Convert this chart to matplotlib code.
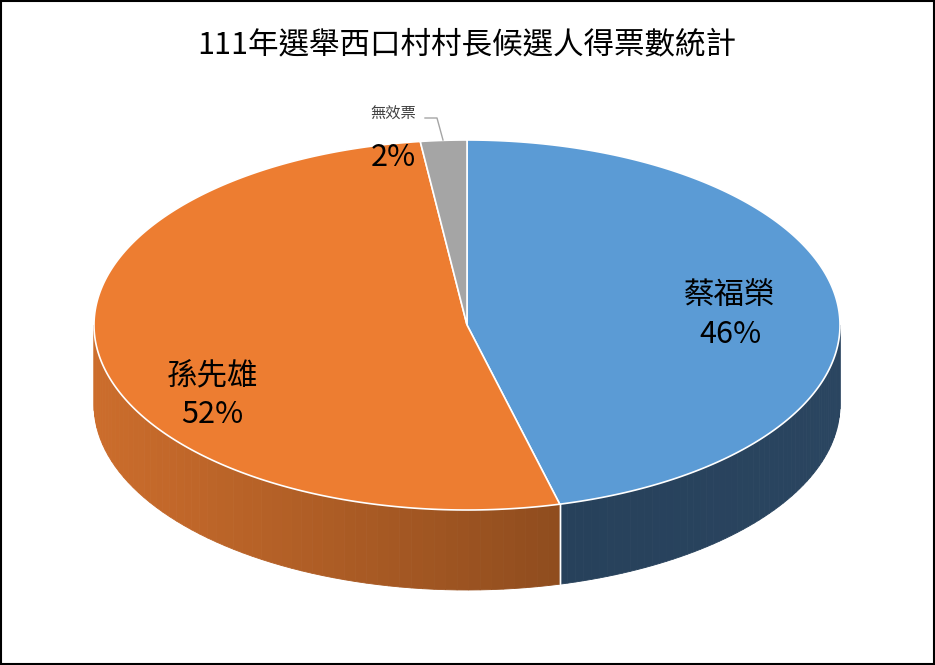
import numpy as np
import matplotlib.pyplot as plt
from matplotlib.patches import Polygon, Rectangle

plt.rcParams['font.family'] = ['Noto Sans CJK TC', 'DejaVu Sans']

title = "111年選舉西口村村長候選人得票數統計"
names = ["蔡福榮", "孫先雄", "無效票"]
shares = [46, 52, 2]
top_colors = ["#5b9bd5", "#ed7d31", "#a5a5a5"]
side_colors = [("#2a4560", "#223a52"), ("#cc6d2c", "#6a3916"), ("#7a7a7a", "#6a6a6a")]

# ellipse geometry in pixel space
cx, cy, rx, ry, depth = 467, 325, 373, 185, 80

fig = plt.figure(figsize=(9.35, 6.65), dpi=100)
ax = fig.add_axes([0, 0, 1, 1])
ax.set_xlim(0, 935)
ax.set_ylim(665, 0)
ax.axis('off')


def pt(theta, dy=0):
    t = np.radians(theta)
    return cx + rx * np.cos(t), cy - ry * np.sin(t) + dy


# slice angles: start at top, go clockwise
bounds = [90]
for s in shares:
    bounds.append(bounds[-1] - s / sum(shares) * 360)

# side walls (front half only, angles in [-180, 0])
for i in range(len(shares)):
    a0, a1 = bounds[i], bounds[i + 1]
    lo, hi = max(a1, -180), min(a0, 0)
    if lo >= hi:
        continue
    steps = np.linspace(hi, lo, 60)
    c0 = np.array(plt.matplotlib.colors.to_rgb(side_colors[i][0]))
    c1 = np.array(plt.matplotlib.colors.to_rgb(side_colors[i][1]))
    for j in range(len(steps) - 1):
        p, q = steps[j], steps[j + 1]
        # colour by horizontal position (left light -> right dark for orange)
        f = (pt((p + q) / 2)[0] - (cx - rx)) / (2 * rx)
        col = c0 + (c1 - c0) * f if i == 1 else c0 + (c1 - c0) * (1 - f)
        quad = [pt(p), pt(q), pt(q, depth), pt(p, depth)]
        ax.add_patch(Polygon(quad, closed=True, fc=col, ec=col, lw=0.6))
    # edge line at slice boundary on side
    for a in (a0, a1):
        if -180 < a < 0:
            x0, y0 = pt(a)
            ax.plot([x0, x0], [y0, y0 + depth], color="white", lw=1)

# top faces
for i in range(len(shares)):
    th = np.linspace(bounds[i], bounds[i + 1], 200)
    verts = [(cx, cy)] + [pt(t) for t in th]
    ax.add_patch(Polygon(verts, closed=True, fc=top_colors[i], ec="white", lw=1.2))

# labels
ax.text(730, 315, f"{names[0]}\n{shares[0]}%", fontsize=22, ha="center", va="center", linespacing=1.3)
ax.text(212, 395, f"{names[1]}\n{shares[1]}%", fontsize=22, ha="center", va="center", linespacing=1.3)
ax.text(393, 158, f"{shares[2]}%", fontsize=22, ha="center", va="center")
ax.text(393, 114, names[2], fontsize=11, ha="center", va="center", color="#404040")
ax.plot([425, 437, 443], [118, 118, 140], color="#a5a5a5", lw=1)

ax.text(467, 45, title, fontsize=22, ha="center", va="center")

ax.add_patch(Rectangle((1, 1), 933, 663, fill=False, ec="black", lw=1.5))

fig.savefig("out.png", dpi=100)
